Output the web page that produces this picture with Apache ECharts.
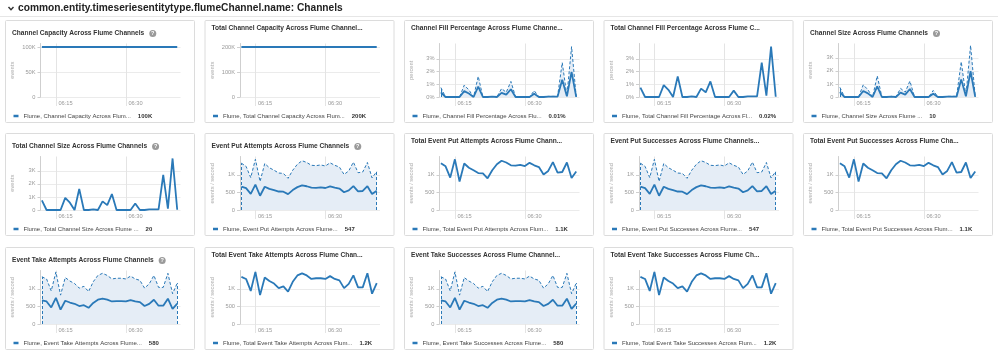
<!DOCTYPE html>
<html><head><meta charset="utf-8">
<script src="https://cdn.jsdelivr.net/npm/echarts@6/dist/echarts.min.js"></script>
<style>html,body{margin:0;padding:0;background:#fff}#c{width:998px;height:356px}</style>
</head><body><div id="c"></div>
<script>
// ---- data ----
const times = ['06:12','06:13','06:14','06:15','06:16','06:17','06:18','06:19','06:20','06:21','06:22','06:23','06:24','06:25','06:26','06:27','06:28','06:29','06:30','06:31','06:32','06:33','06:34','06:35','06:36','06:37','06:38','06:39','06:40','06:41'];
const xTickLabels = ['06:15','06:30'];

const capacityPerChannel = [100000,100000,100000,100000,100000,100000,100000,100000,100000,100000,100000,100000,100000,100000,100000,100000,100000,100000,100000,100000,100000,100000,100000,100000,100000,100000,100000,100000,100000,100000];
const capacityTotal = [200000,200000,200000,200000,200000,200000,200000,200000,200000,200000,200000,200000,200000,200000,200000,200000,200000,200000,200000,200000,200000,200000,200000,200000,200000,200000,200000,200000,200000,200000];

const fillPctTotal = [0.74,0,0,0,0,0.93,0.56,0,1.62,0,0,0.05,0,0.66,0.37,1.22,0,0,0,0,0.5,0,0,0.05,0.05,0.05,2.7,0.1,3.95,0.02];
const fillPctMean  = [0.37,0,0,0,0,0.46,0.28,0,0.81,0,0,0.03,0,0.33,0.18,0.61,0,0,0,0,0.25,0,0,0.03,0.03,0.03,1.35,0.05,1.97,0.01];

const sizeTotal = [740,0,0,0,0,930,560,0,1620,0,0,50,0,660,370,1220,0,0,0,0,500,0,0,50,50,50,2700,100,3950,20];
const sizeMean  = [370,0,0,0,0,465,280,0,810,0,0,25,0,330,185,610,0,0,0,0,250,0,0,25,25,25,1350,50,1975,10];

const putTotal = [1330,1240,920,1440,810,1320,1200,1130,1050,1040,900,1130,1300,1400,1350,1270,1260,1280,1250,1340,1270,1220,1010,1110,1360,1060,1080,1350,910,1094];
const putMean  = [665,620,460,720,405,660,600,565,525,520,450,565,650,700,675,635,630,640,625,670,635,610,505,555,680,530,540,675,455,547];

const takeTotal = [1340,1280,940,1480,820,1320,1220,1150,1020,1070,920,1200,1380,1440,1380,1280,1300,1300,1280,1360,1280,1240,1020,1140,1380,1040,1040,1440,860,1160];
const takeMean  = [670,640,470,740,410,660,610,575,510,535,460,600,690,720,690,640,650,650,640,680,640,620,510,570,690,520,520,720,430,580];

const ticksCap = [0,50000,100000];
const ticksCapTotal = [0,100000,200000];
const ticksPct = [0,1,2,3];
const ticksSize = [0,1000,2000,3000];
const ticksRate = [0,500,1000];

// ---- chart definitions ----
const charts = [
 {title:'Channel Capacity Across Flume Channels', help:true, unit:'events', yTicks:ticksCap, yMax:107000, fmt:'k', kind:'single', main:capacityPerChannel, legend:'Flume, Channel Capacity Across Flum...', last:'100K'},
 {title:'Total Channel Capacity Across Flume Channel...', help:false, unit:'events', yTicks:ticksCapTotal, yMax:214000, fmt:'k', kind:'single', main:capacityTotal, legend:'Flume, Total Channel Capacity Across Flum...', last:'200K'},
 {title:'Channel Fill Percentage Across Flume Channe...', help:false, unit:'percent', yTicks:ticksPct, yMax:4.2, fmt:'pct', kind:'band', main:fillPctMean, max:fillPctTotal, legend:'Flume, Channel Fill Percentage Across Flu...', last:'0.01%'},
 {title:'Total Channel Fill Percentage Across Flume C...', help:false, unit:'percent', yTicks:ticksPct, yMax:4.2, fmt:'pct', kind:'single', main:fillPctTotal, legend:'Flume, Total Channel Fill Percentage Across Fl...', last:'0.02%'},
 {title:'Channel Size Across Flume Channels', help:true, unit:'events', yTicks:ticksSize, yMax:4100, fmt:'k', kind:'band', main:sizeMean, max:sizeTotal, legend:'Flume, Channel Size Across Flume ...', last:'10'},
 {title:'Total Channel Size Across Flume Channels', help:true, unit:'events', yTicks:ticksSize, yMax:4100, fmt:'k', kind:'single', main:sizeTotal, legend:'Flume, Total Channel Size Across Flume ...', last:'20'},
 {title:'Event Put Attempts Across Flume Channels', help:true, unit:'events / second', yTicks:ticksRate, yMax:1520, fmt:'k', kind:'band', main:putMean, max:putTotal, legend:'Flume, Event Put Attempts Across Flume...', last:'547'},
 {title:'Total Event Put Attempts Across Flume Chann...', help:false, unit:'events / second', yTicks:ticksRate, yMax:1520, fmt:'k', kind:'single', main:putTotal, legend:'Flume, Total Event Put Attempts Across Flum...', last:'1.1K'},
 {title:'Event Put Successes Across Flume Channels...', help:false, unit:'events / second', yTicks:ticksRate, yMax:1520, fmt:'k', kind:'band', main:putMean, max:putTotal, legend:'Flume, Event Put Successes Across Flume...', last:'547'},
 {title:'Total Event Put Successes Across Flume Cha...', help:false, unit:'events / second', yTicks:ticksRate, yMax:1520, fmt:'k', kind:'single', main:putTotal, legend:'Flume, Total Event Put Successes Across Flum...', last:'1.1K'},
 {title:'Event Take Attempts Across Flume Channels', help:true, unit:'events / second', yTicks:ticksRate, yMax:1520, fmt:'k', kind:'band', main:takeMean, max:takeTotal, legend:'Flume, Event Take Attempts Across Flume...', last:'580'},
 {title:'Total Event Take Attempts Across Flume Chan...', help:false, unit:'events / second', yTicks:ticksRate, yMax:1520, fmt:'k', kind:'single', main:takeTotal, legend:'Flume, Total Event Take Attempts Across Flum...', last:'1.2K'},
 {title:'Event Take Successes Across Flume Channel...', help:false, unit:'events / second', yTicks:ticksRate, yMax:1520, fmt:'k', kind:'band', main:takeMean, max:takeTotal, legend:'Flume, Event Take Successes Across Flume...', last:'580'},
 {title:'Total Event Take Successes Across Flume Ch...', help:false, unit:'events / second', yTicks:ticksRate, yMax:1520, fmt:'k', kind:'single', main:takeTotal, legend:'Flume, Total Event Take Successes Across Flum...', last:'1.2K'}
];

// ---- helpers ----
const toMin = s => { const p = s.split(':'); return (+p[0]) * 60 + (+p[1]) - 360; };
const mins = times.map(toMin);
const xTickVals = xTickLabels.map(toMin);
const fmtTime = v => { const t = Math.round(v) + 360; const h = Math.floor(t / 60), m = t % 60; return (h < 10 ? '0' : '') + h + ':' + (m < 10 ? '0' : '') + m; };
const fmtK = v => v === 0 ? '0' : (v >= 1000 ? (v / 1000) + 'K' : String(v));
const fmtPct = v => v + '%';

const BLUE = '#2a79b8', FILL = '#e5edf6', FONT = 'Liberation Sans';
const PANEL_L = [5.5, 205, 404.5, 604, 803.5];
const PANEL_T = [20.5, 133.5, 247.5];
const PW = 189, PH = 102;

const option = {
  animation: false,
  backgroundColor: '#fff',
  textStyle: {fontFamily: FONT},
  title: [], legend: [], grid: [], xAxis: [], yAxis: [], series: [],
  graphic: []
};

option.title.push({
  text: 'common.entity.timeseriesentitytype.flumeChannel.name: Channels',
  left: 18, top: 3.5, padding: 0,
  textStyle: {fontSize: 10.2, fontWeight: 'bold', color: '#222', fontFamily: FONT}
});
option.graphic.push({type: 'polyline', shape: {points: [[8.5, 7], [11, 9.8], [13.5, 7]]}, style: {stroke: '#333', lineWidth: 1.4, fill: null}});
option.graphic.push({type: 'line', shape: {x1: 0, y1: 16.5, x2: 998, y2: 16.5}, style: {stroke: '#e6e6e6', lineWidth: 1}});

const legendMap = {};

charts.forEach((c, i) => {
  const L = PANEL_L[i % 5], T = PANEL_T[Math.floor(i / 5)];
  option.graphic.push({type: 'rect', z: -10, shape: {x: L, y: T, width: PW, height: PH, r: 1}, style: {fill: '#fff', stroke: '#dcdcdc', lineWidth: 1}});
  option.title.push({
    text: '{t|' + c.title + '}' + (c.help ? ' {q|?}' : ''),
    left: L + 6.5, top: T + 4, padding: 0,
    textStyle: {rich: {
      t: {fontSize: 6.6, fontWeight: 'bold', color: '#333', fontFamily: FONT},
      q: {fontSize: 5.5, fontWeight: 'bold', color: '#fff', backgroundColor: '#9a9a9a', width: 7, height: 7, lineHeight: 7, borderRadius: 3.5, align: 'center', fontFamily: FONT}
    }}
  });
  option.grid.push({left: L + 35, top: T + 23, width: 140, height: 53.5, containLabel: false});
  const yf = c.fmt === 'pct' ? fmtPct : fmtK;
  option.xAxis.push({
    gridIndex: i, type: 'value', min: 11.7, max: 41.7,
    axisLine: {show: false},
    axisTick: {show: true, customValues: xTickVals, length: 9, lineStyle: {color: '#e4e4e4'}},
    axisLabel: {customValues: xTickVals, formatter: fmtTime, fontSize: 5.7, color: '#999', align: 'left', margin: 3, padding: [0, 0, 0, 2.5]},
    splitLine: {show: true, lineStyle: {color: '#e4e4e4', width: 1}}
  });
  option.yAxis.push({
    gridIndex: i, type: 'value', min: 0, max: c.yMax,
    name: c.unit, nameLocation: 'middle', nameGap: 25, nameRotate: 90,
    nameTextStyle: {fontSize: 5.8, color: '#aaa'},
    axisLine: {show: true, lineStyle: {color: '#cfcfcf'}},
    axisTick: {show: true, customValues: c.yTicks, length: 3, lineStyle: {color: '#cfcfcf'}},
    axisLabel: {customValues: c.yTicks, formatter: yf, fontSize: 5.7, color: '#999', margin: 5},
    splitLine: {show: true, lineStyle: {color: '#ebebeb', width: 1}}
  });
  const pts = arr => mins.map((m, k) => [m, arr[k]]);
  if (c.kind === 'band') {
    const n = mins.length;
    option.series.push({
      name: c.legend + ' (max)', type: 'line', xAxisIndex: i, yAxisIndex: i,
      data: pts(c.max), showSymbol: false, silent: true, z: 2,
      lineStyle: {color: BLUE, width: 1, type: [3, 2]},
      areaStyle: {color: FILL, opacity: 1},
      markLine: {silent: true, symbol: 'none', label: {show: false},
        lineStyle: {color: BLUE, width: 1, type: [3, 2]},
        data: [[{coord: [mins[0], 0]}, {coord: [mins[0], c.max[0]]}], [{coord: [mins[n - 1], 0]}, {coord: [mins[n - 1], c.max[n - 1]]}]]}
    });
  }
  option.series.push({
    name: c.legend, type: 'line', xAxisIndex: i, yAxisIndex: i,
    data: pts(c.main), showSymbol: false, z: 3,
    lineStyle: {color: BLUE, width: 1.8}, itemStyle: {color: BLUE}
  });
  legendMap[c.legend] = c.last;
  option.legend.push({
    left: L + 8, top: T + 92.5, padding: 0, selectedMode: false,
    icon: 'rect', itemWidth: 5, itemHeight: 2.5,
    data: [c.legend],
    formatter: name => '{n|' + name + '}{v|' + legendMap[name] + '}',
    textStyle: {rich: {
      n: {fontSize: 6, color: '#444', lineHeight: 8, fontFamily: FONT},
      v: {fontSize: 6, fontWeight: 'bold', color: '#333', lineHeight: 8, padding: [0, 0, 0, 7], fontFamily: FONT}
    }}
  });
});

const chart = echarts.init(document.getElementById('c'), null, {renderer: 'canvas'});
chart.setOption(option);
</script>
</body></html>
